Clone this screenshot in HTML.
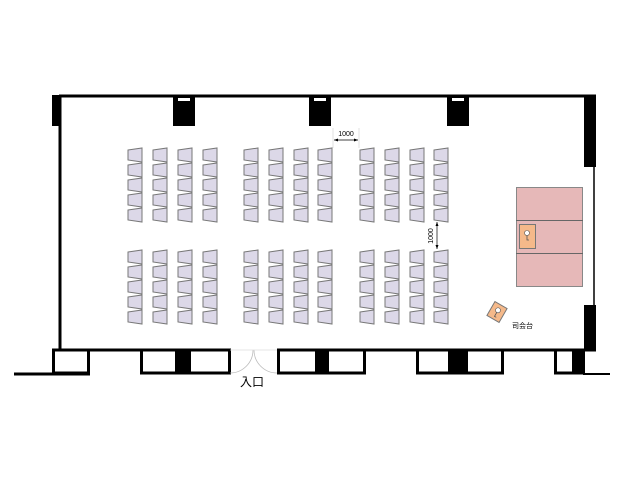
<!DOCTYPE html>
<html><head><meta charset="utf-8"><style>
body{margin:0;background:#fff;width:640px;height:480px;overflow:hidden}
</style></head><body>
<svg width="640" height="480" viewBox="0 0 640 480" xmlns="http://www.w3.org/2000/svg" font-family="Liberation Sans, Noto Sans CJK JP, sans-serif">
<defs>
<g id="c"><polygon points="0,2 14,0 14,14 0,12" fill="#dcd8e8" stroke="#777" stroke-width="1"/></g>
<g id="blk">
<use href="#c" x="0" y="0"/><use href="#c" x="0" y="15"/><use href="#c" x="0" y="30"/><use href="#c" x="0" y="45"/><use href="#c" x="0" y="60"/>
</g>
<g id="row">
<use href="#blk" x="128"/><use href="#blk" x="153"/><use href="#blk" x="178"/><use href="#blk" x="203"/>
<use href="#blk" x="244"/><use href="#blk" x="269"/><use href="#blk" x="294"/><use href="#blk" x="318"/>
<use href="#blk" x="360"/><use href="#blk" x="385"/><use href="#blk" x="410"/><use href="#blk" x="434"/>
</g>
</defs>
<line x1="59" y1="96" x2="596" y2="96" stroke="#000" stroke-width="3"/>
<line x1="60" y1="95" x2="60" y2="350" stroke="#000" stroke-width="3"/>
<rect x="52" y="95" width="9" height="31" fill="#000"/>
<rect x="173" y="95" width="22" height="31" fill="#000"/><rect x="178" y="98" width="12" height="3" fill="#fff"/>
<rect x="309" y="95" width="22" height="31" fill="#000"/><rect x="314" y="98" width="12" height="3" fill="#fff"/>
<rect x="447" y="95" width="22" height="31" fill="#000"/><rect x="452" y="98" width="12" height="3" fill="#fff"/>
<rect x="584" y="95" width="12" height="72" fill="#000"/>
<line x1="594" y1="166" x2="594" y2="306" stroke="#000" stroke-width="1.5"/>
<rect x="584" y="305" width="12" height="45" fill="#000"/>
<line x1="52" y1="350" x2="230" y2="350" stroke="#000" stroke-width="3"/>
<line x1="277" y1="350" x2="596" y2="350" stroke="#000" stroke-width="3"/>
<line x1="14" y1="374" x2="90" y2="374" stroke="#000" stroke-width="3"/>
<rect x="53.5" y="350" width="35" height="23" fill="#fff" stroke="#000" stroke-width="3"/>
<rect x="141.5" y="350" width="88" height="23" fill="#fff" stroke="#000" stroke-width="3"/><rect x="175" y="350" width="16" height="24" fill="#000"/>
<rect x="278.5" y="350" width="86" height="23" fill="#fff" stroke="#000" stroke-width="3"/><rect x="315" y="350" width="14" height="24" fill="#000"/>
<rect x="417.5" y="350" width="85" height="23" fill="#fff" stroke="#000" stroke-width="3"/><rect x="448" y="350" width="20" height="24" fill="#000"/>
<rect x="555.5" y="350" width="28" height="23" fill="#fff" stroke="#000" stroke-width="3"/><rect x="572" y="350" width="13" height="24" fill="#000"/>
<line x1="583" y1="374" x2="610" y2="374" stroke="#000" stroke-width="2"/>
<path d="M230 373 A23 23 0 0 0 253 350 M277 373 A23 23 0 0 1 254 350" fill="none" stroke="#bbb" stroke-width="0.8"/>
<line x1="230" y1="350" x2="277" y2="350" stroke="#ddd" stroke-width="0.8"/>
<text x="252" y="386" font-size="12" text-anchor="middle" fill="#000">入口</text>
<use href="#row" transform="translate(0,148)"/>
<use href="#row" transform="translate(0,250)"/>
<line x1="333" y1="128" x2="333" y2="148" stroke="#ccc" stroke-width="0.6"/>
<line x1="359" y1="128" x2="359" y2="148" stroke="#ccc" stroke-width="0.6"/>
<line x1="334" y1="140" x2="358" y2="140" stroke="#000" stroke-width="0.7"/>
<polygon points="334,140 338,138.5 338,141.5" fill="#000"/><polygon points="358,140 354,138.5 354,141.5" fill="#000"/>
<text x="346" y="136" font-size="7" text-anchor="middle">1000</text>
<line x1="437" y1="222" x2="437" y2="249" stroke="#000" stroke-width="0.7"/>
<polygon points="437,222 435.5,226 438.5,226" fill="#000"/><polygon points="437,249 435.5,245 438.5,245" fill="#000"/>
<text transform="translate(433,236) rotate(-90)" font-size="7" text-anchor="middle">1000</text>
<rect x="516.5" y="187.5" width="66" height="99" fill="#e6b8b8" stroke="#888"/>
<line x1="516" y1="220.5" x2="583" y2="220.5" stroke="#666"/>
<line x1="516" y1="253.5" x2="583" y2="253.5" stroke="#666"/>
<rect x="519.5" y="224.5" width="16" height="24" fill="#f5b98a" stroke="#777"/>
<circle cx="527" cy="233" r="2.5" fill="#fff" stroke="#555" stroke-width="0.6"/><path d="M527 235.5 V240 H529" fill="none" stroke="#555" stroke-width="0.8"/>
<g transform="translate(497,312) rotate(30)">
<rect x="-7" y="-8" width="14" height="16" fill="#f5b98a" stroke="#777"/>
<circle cx="0" cy="-2" r="2.5" fill="#fff" stroke="#555" stroke-width="0.6"/><path d="M0 0.5 V5 H2" fill="none" stroke="#555" stroke-width="0.8"/>
</g>
<text x="512" y="328" font-size="7" fill="#000">司会台</text>
</svg>
</body></html>
